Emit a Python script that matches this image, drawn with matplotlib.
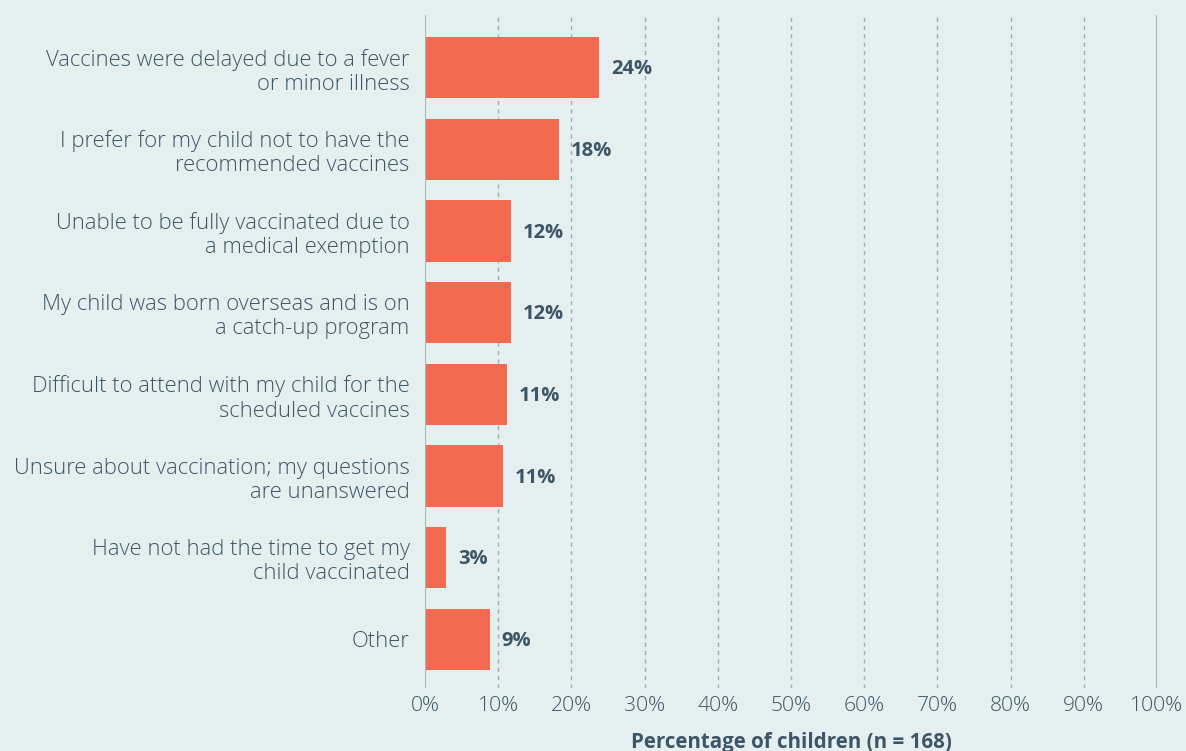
import matplotlib
matplotlib.use("Agg")
import matplotlib.pyplot as plt
from matplotlib.ticker import FuncFormatter

categories = [
    "Vaccines were delayed due to a fever\nor minor illness",
    "I prefer for my child not to have the\nrecommended vaccines",
    "Unable to be fully vaccinated due to\na medical exemption",
    "My child was born overseas and is on\na catch-up program",
    "Difficult to attend with my child for the\nscheduled vaccines",
    "Unsure about vaccination; my questions\nare unanswered",
    "Have not had the time to get my\nchild vaccinated",
    "Other",
]
values = [23.8, 18.3, 11.7, 11.7, 11.2, 10.7, 2.9, 8.9]
value_labels = ["24%", "18%", "12%", "12%", "11%", "11%", "3%", "9%"]
xticks = [0, 10, 20, 30, 40, 50, 60, 70, 80, 90, 100]

BG = "#e5eff0"
BAR = "#f26a50"
TXT = "#3d5566"
GRID = "#9fadb4"

plt.rcParams['font.family'] = ['Open Sans', 'DejaVu Sans']

fig = plt.figure(figsize=(11.86, 7.51), dpi=100, facecolor=BG)
ax = fig.add_axes([425/1186, 1-688/751, (1157-425)/1186, (688-15)/751])
ax.set_facecolor(BG)

y = list(range(len(categories)))
ax.barh(y, values, height=0.75, color=BAR, zorder=3)
for yi, v, lab in zip(y, values, value_labels):
    ax.text(v + 1.6, yi + 0.02, lab, va="center", ha="left", fontsize=14.5,
            fontweight="bold", color=TXT, zorder=4)

ax.set_xlim(0, 100)
ax.set_ylim(7.594, -0.643)
ax.set_xticks(xticks)
ax.xaxis.set_major_formatter(FuncFormatter(lambda v, p: f"{int(v)}%"))
ax.set_yticks(y)
ax.set_yticklabels(categories, fontsize=15.8, color=TXT, linespacing=1.2,
                   fontweight="light")
for t in ax.get_xticklabels():
    t.set_fontsize(15.2)
    t.set_color(TXT)
    t.set_fontweight("light")
ax.tick_params(axis="both", length=0)
ax.tick_params(axis="y", pad=11)
ax.tick_params(axis="x", pad=6)

for x in xticks[1:-1]:
    ax.axvline(x, color=GRID, linestyle=(0, (3, 3)), linewidth=1, zorder=1)
ax.axvline(0, color="#a9b7bc", linewidth=1.5, zorder=4)
ax.axvline(100, color="#a9b7bc", linewidth=1.5, zorder=1)

for s in ax.spines.values():
    s.set_visible(False)

ax.set_xlabel("Percentage of children (n = 168)", fontsize=14.8, fontweight="bold",
              color=TXT, labelpad=11)

fig.savefig("out.png", dpi=100, facecolor=BG)
